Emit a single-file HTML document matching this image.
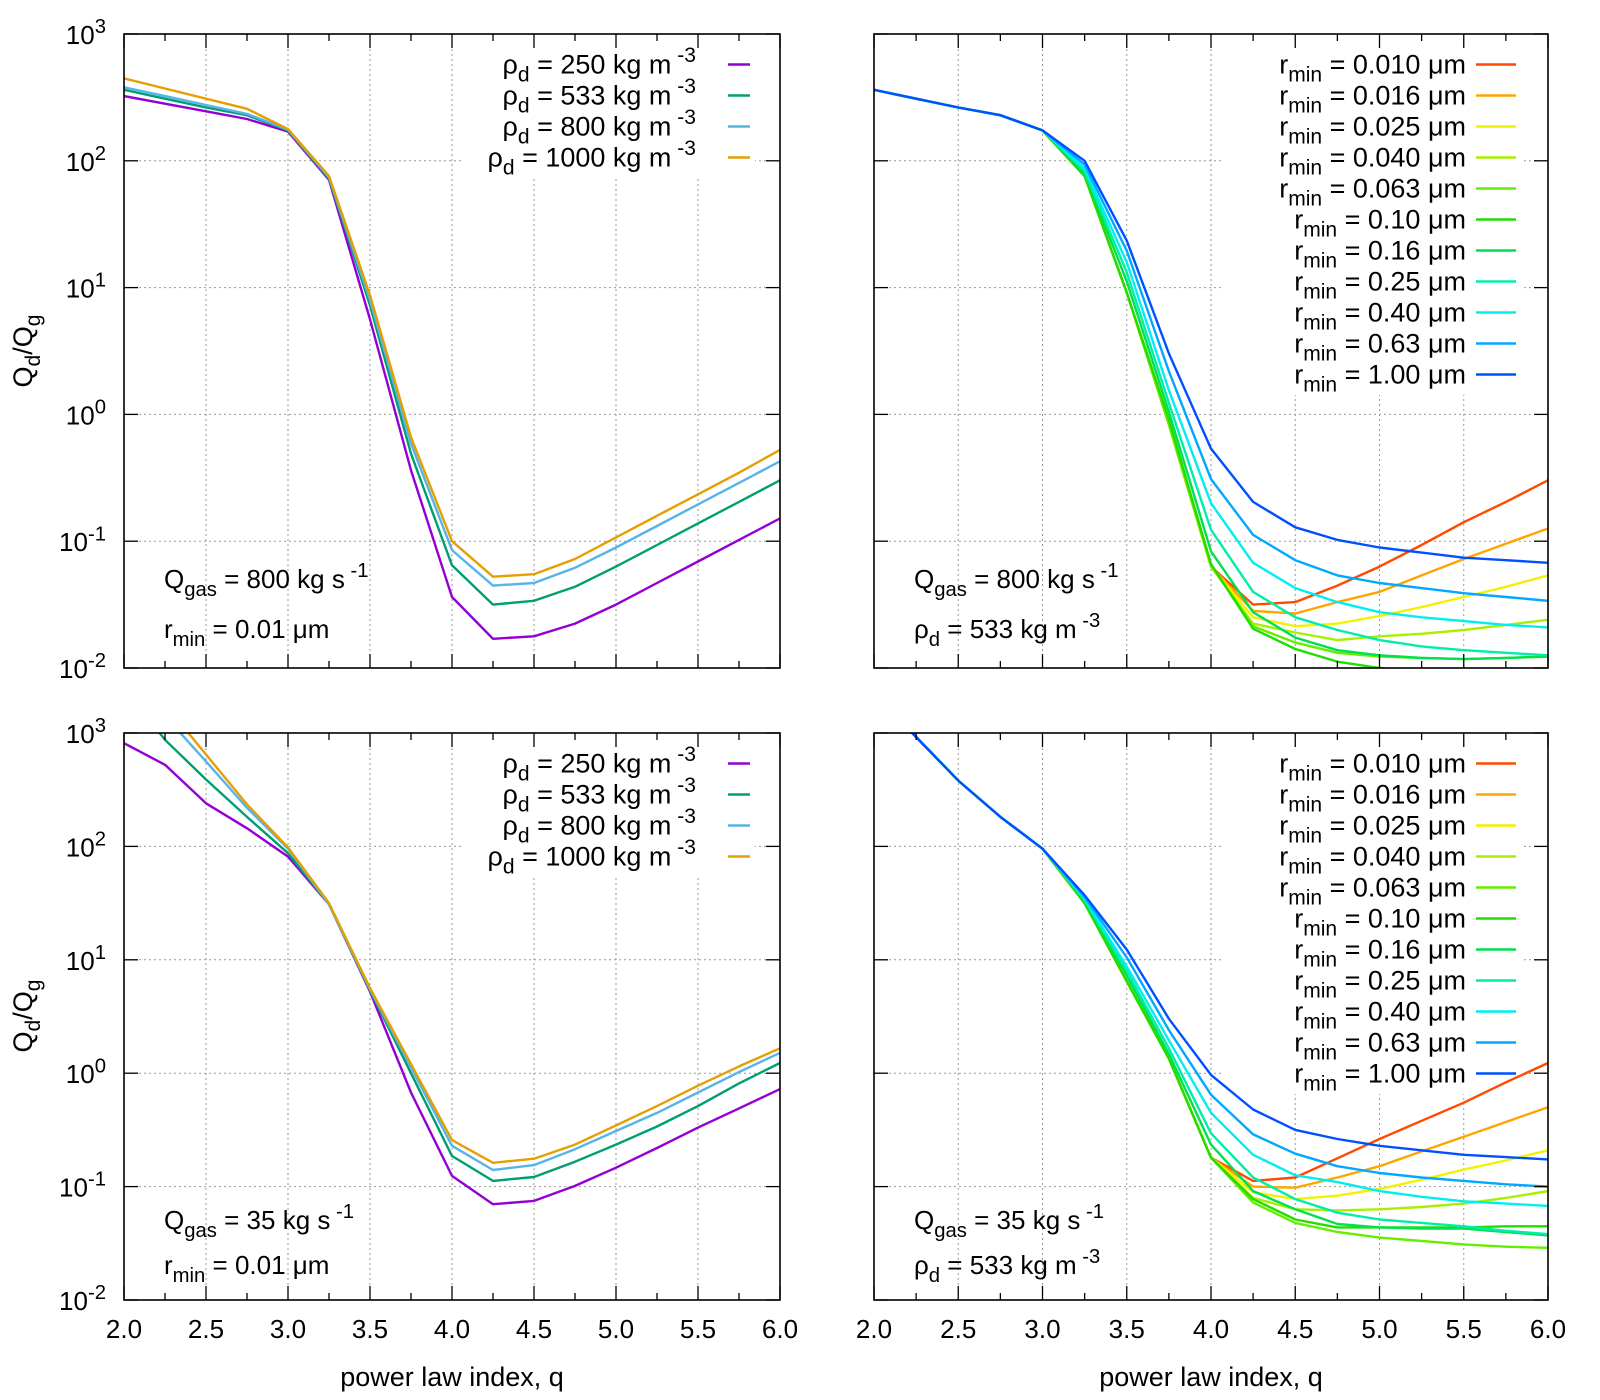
<!DOCTYPE html>
<html><head><meta charset="utf-8"><style>
html,body{margin:0;padding:0;background:#fff;}
svg{display:block;font-family:"Liberation Sans",sans-serif;}
</style></head><body>
<svg id="fig" width="1600" height="1400" viewBox="0 0 1600 1400" xmlns="http://www.w3.org/2000/svg"></svg>
<script>
const qValues=[2,2.25,2.5,2.75,3,3.25,3.5,3.75,4,4.25,4.5,4.75,5,5.25,5.5,5.75,6];
const xTicks=[2,2.5,3,3.5,4,4.5,5,5.5,6];
const xTickLabels=["2.0","2.5","3.0","3.5","4.0","4.5","5.0","5.5","6.0"];
const yTickExps=[-2,-1,0,1,2,3];
// log10(Qd/Qg), top-left
const tl250=[2.51,2.45,2.39,2.33,2.23,1.85,0.75,-0.44,-1.44,-1.77,-1.75,-1.65,-1.50,-1.33,-1.16,-0.99,-0.82];
const tl533=[2.56,2.49,2.42,2.36,2.24,1.86,0.86,-0.31,-1.19,-1.50,-1.47,-1.36,-1.20,-1.03,-0.86,-0.69,-0.52];
const tl800=[2.58,2.51,2.44,2.37,2.245,1.87,0.90,-0.23,-1.07,-1.35,-1.33,-1.21,-1.05,-0.88,-0.71,-0.54,-0.37];
const tl1000=[2.65,2.57,2.49,2.41,2.25,1.88,0.94,-0.18,-1.0,-1.28,-1.26,-1.14,-0.97,-0.80,-0.63,-0.46,-0.28];
// top-right
const tr010=[2.56,2.49,2.42,2.36,2.24,1.88,0.96,-0.08,-1.20,-1.50,-1.48,-1.35,-1.20,-1.03,-0.85,-0.69,-0.52];
const tr016=[2.56,2.49,2.42,2.36,2.24,1.88,0.96,-0.08,-1.20,-1.55,-1.57,-1.48,-1.40,-1.27,-1.14,-1.02,-0.90];
const tr025=[2.56,2.49,2.42,2.36,2.24,1.88,0.96,-0.08,-1.20,-1.60,-1.67,-1.65,-1.59,-1.52,-1.44,-1.36,-1.27];
const tr040=[2.56,2.49,2.42,2.36,2.24,1.88,0.96,-0.08,-1.20,-1.65,-1.72,-1.78,-1.75,-1.73,-1.70,-1.66,-1.62];
const tr063=[2.56,2.49,2.42,2.36,2.24,1.88,0.96,-0.08,-1.19,-1.67,-1.80,-1.88,-1.91,-1.92,-1.93,-1.92,-1.91];
const tr100s=[2.56,2.49,2.42,2.36,2.24,1.88,0.96,-0.04,-1.18,-1.69,-1.85,-1.95,-2.0,-2.03,-2.05,-2.06,-2.07];
const tr160=[2.56,2.49,2.42,2.36,2.24,1.90,1.05,0.02,-1.08,-1.56,-1.76,-1.86,-1.90,-1.92,-1.93,-1.92,-1.91];
const tr250=[2.56,2.49,2.42,2.36,2.24,1.92,1.12,0.09,-0.91,-1.40,-1.60,-1.70,-1.78,-1.83,-1.86,-1.88,-1.90];
const tr400=[2.56,2.49,2.42,2.36,2.24,1.94,1.20,0.19,-0.70,-1.17,-1.37,-1.48,-1.56,-1.60,-1.63,-1.66,-1.68];
const tr630=[2.56,2.49,2.42,2.36,2.24,1.97,1.29,0.34,-0.51,-0.95,-1.15,-1.27,-1.33,-1.37,-1.41,-1.44,-1.47];
const tr1000=[2.56,2.49,2.42,2.36,2.24,2.0,1.37,0.48,-0.27,-0.69,-0.89,-0.99,-1.05,-1.09,-1.13,-1.15,-1.17];
// bottom-left
const bl250=[2.91,2.72,2.38,2.16,1.91,1.49,0.72,-0.17,-0.906,-1.155,-1.126,-0.994,-0.833,-0.66,-0.48,-0.31,-0.14];
const bl533=[3.4,2.94,2.59,2.26,1.94,1.49,0.73,0.0,-0.73,-0.95,-0.915,-0.78,-0.63,-0.47,-0.29,-0.09,0.09];
const bl800=[3.55,3.15,2.75,2.34,1.98,1.49,0.74,0.05,-0.64,-0.854,-0.81,-0.67,-0.51,-0.35,-0.17,0.01,0.18];
const bl1000=[3.7,3.25,2.81,2.37,1.99,1.50,0.75,0.08,-0.59,-0.79,-0.754,-0.63,-0.46,-0.29,-0.11,0.06,0.22];
// bottom-right
const br010=[3.34,2.965,2.58,2.26,1.98,1.50,0.81,0.13,-0.745,-0.95,-0.92,-0.75,-0.58,-0.42,-0.26,-0.08,0.09];
const br016=[3.34,2.965,2.58,2.26,1.98,1.50,0.81,0.13,-0.745,-1.0,-1.01,-0.92,-0.82,-0.69,-0.56,-0.43,-0.30];
const br025=[3.34,2.965,2.58,2.26,1.98,1.50,0.81,0.13,-0.745,-1.05,-1.11,-1.08,-1.02,-0.94,-0.85,-0.77,-0.68];
const br040=[3.34,2.965,2.58,2.26,1.98,1.50,0.81,0.13,-0.745,-1.10,-1.20,-1.21,-1.20,-1.18,-1.15,-1.10,-1.04];
const br063=[3.34,2.965,2.58,2.26,1.98,1.50,0.81,0.13,-0.745,-1.14,-1.32,-1.40,-1.45,-1.48,-1.51,-1.53,-1.54];
const br100s=[3.34,2.965,2.58,2.26,1.98,1.50,0.81,0.13,-0.745,-1.11,-1.29,-1.36,-1.36,-1.36,-1.36,-1.35,-1.35];
const br160=[3.34,2.965,2.58,2.26,1.98,1.52,0.86,0.17,-0.63,-1.04,-1.20,-1.33,-1.36,-1.37,-1.37,-1.40,-1.43];
const br250=[3.34,2.965,2.58,2.26,1.98,1.53,0.90,0.22,-0.53,-0.92,-1.11,-1.23,-1.29,-1.32,-1.35,-1.39,-1.42];
const br400=[3.34,2.965,2.58,2.26,1.98,1.54,0.94,0.29,-0.35,-0.72,-0.90,-0.96,-1.04,-1.09,-1.13,-1.15,-1.17];
const br630=[3.34,2.965,2.58,2.26,1.98,1.555,1.02,0.38,-0.19,-0.54,-0.71,-0.82,-0.88,-0.92,-0.95,-0.98,-1.0];
const br1000=[3.34,2.965,2.58,2.26,1.98,1.57,1.09,0.48,-0.015,-0.32,-0.50,-0.58,-0.64,-0.68,-0.72,-0.74,-0.76];
const rhoLabels=["250","533","800","1000"];
const rminLabels=["0.010","0.016","0.025","0.040","0.063","0.10","0.16","0.25","0.40","0.63","1.00"];

const rhoColors=["#9400d3","#009e73","#56b4e9","#e69f00"];
const rColors=["#ff4a00","#ffa500","#f2f200","#a8f000","#66ee00","#22dd00","#00e050","#00eeaa","#00eef0","#00a8ff","#0050ff"];
const NS="http://www.w3.org/2000/svg";
const svg=document.getElementById('fig');
function mk(tag,attrs,parent){const e=document.createElementNS(NS,tag);for(const k in attrs)e.setAttribute(k,attrs[k]);(parent||svg).appendChild(e);return e;}
function rich(parent,x,y,parts,size,anchor,name){
  const t=mk('text',{x:x,y:y,'font-size':size,'text-anchor':anchor||'start',fill:'#000'},parent);
  
  
  let cur=0;
  parts.forEach(p=>{const s=document.createElementNS(NS,'tspan');let target=0,fs=size;
    if(p[1]==='sub'){target=size*0.3;fs=size*0.78;} else if(p[1]==='sup'){target=-size*0.42;fs=size*0.78;}
    s.setAttribute('dy',target-cur);cur=target;s.setAttribute('font-size',fs);s.textContent=p[0];t.appendChild(s);});
  return t;
}
function panel(id,L,R,T,B,series,colors,legendParts,annot,bottomLabels){
  const g=mk('g',{});
  
  
  const xs=q=>L+(q-2)/4*(R-L);
  const ys=v=>B-(v+2)/5*(B-T);
  xTicks.forEach(q=>{if(q>2&&q<6){const l=mk('line',{x1:xs(q),x2:xs(q),y1:T,y2:B,stroke:'#999','stroke-width':1,'stroke-dasharray':'2,3'},g);}});
  yTickExps.forEach(e=>{if(e>-2&&e<3){const l=mk('line',{x1:L,x2:R,y1:ys(e),y2:ys(e),stroke:'#999','stroke-width':1,'stroke-dasharray':'2,3'},g);}});
  const n=series.length;
  const legTop=T+14, rowH=31;
  const lw=n>4?245:235;
  const lb=mk('rect',{x:legendParts.textX-lw,y:legTop,width:legendParts.lineX2-legendParts.textX+lw+5,height:n*rowH+6,fill:'#fff'},g);
  
  
  const cp=mk('clipPath',{id:'clip-'+id},g);mk('rect',{x:L,y:T,width:R-L,height:B-T},cp);
  const sg=mk('g',{'clip-path':'url(#clip-'+id+')'},g);
  series.forEach((arr,i)=>{
    const pts=arr.map((v,j)=>xs(qValues[j]).toFixed(1)+','+ys(v).toFixed(1)).join(' ');
    const pl=mk('polyline',{points:pts,fill:'none',stroke:colors[i],'stroke-width':2.4,'stroke-linejoin':'round'},sg);
    
    
    const cy=legTop+rowH/2+1+i*rowH;
    rich(g,legendParts.textX,cy+9,legendParts.parts(i),27,'end','legend-label');
    const ll=mk('line',{x1:legendParts.lineX1,x2:legendParts.lineX2,y1:cy,y2:cy,stroke:colors[i],'stroke-width':2.4},g);
    
    
  });
  const fr=mk('rect',{x:L,y:T,width:R-L,height:B-T,fill:'none',stroke:'#000','stroke-width':1.6},g);
  
  
  qValues.forEach(q=>{const major=xTicks.includes(q);const len=major?14:7;
    mk('line',{x1:xs(q),x2:xs(q),y1:B,y2:B-len,stroke:'#000','stroke-width':1.3},g);
    mk('line',{x1:xs(q),x2:xs(q),y1:T,y2:T+len,stroke:'#000','stroke-width':1.3},g);});
  yTickExps.forEach(e=>{mk('line',{x1:L,x2:L+14,y1:ys(e),y2:ys(e),stroke:'#000','stroke-width':1.3},g);
    mk('line',{x1:R,x2:R-14,y1:ys(e),y2:ys(e),stroke:'#000','stroke-width':1.3},g);});
  if(bottomLabels){xTicks.forEach((q,i)=>{const t=mk('text',{x:xs(q),y:B+38,'font-size':26,'text-anchor':'middle'},g);t.textContent=xTickLabels[i];
    });}
  if(L<400){yTickExps.forEach(e=>{rich(g,L-18,ys(e)+10,[["10",null],[String(e),'sup']],26,'end','y-tick-label');});}
  annot.forEach(a=>rich(g,L+40,a[0],a[1],26,'start','annotation'));
}
const rhoLeg={textX:696,lineX1:728,lineX2:750,keys:rhoLabels.map(s=>'rho-'+s),
  parts:i=>[["ρ",null],["d",'sub'],[" = "+rhoLabels[i]+" kg m",null],[" -3",'sup']]};
const rLegR={textX:1466,lineX1:1476,lineX2:1516,keys:rminLabels.map(s=>'rmin-'+s),
  parts:i=>[["r",null],["min",'sub'],[" = "+rminLabels[i]+"  μm",null]]};
panel('panel-top-left',124,780,34,668,[tl250,tl533,tl800,tl1000],rhoColors,rhoLeg,
  [[588,[["Q",null],["gas",'sub'],[" = 800 kg s",null],[" -1",'sup']]],[638,[["r",null],["min",'sub'],[" = 0.01  μm",null]]]],false);
panel('panel-top-right',874,1548,34,668,[tr010,tr016,tr025,tr040,tr063,tr100s,tr160,tr250,tr400,tr630,tr1000],rColors,rLegR,
  [[588,[["Q",null],["gas",'sub'],[" = 800 kg s",null],[" -1",'sup']]],[638,[["ρ",null],["d",'sub'],[" = 533 kg m",null],[" -3",'sup']]]],false);
panel('panel-bottom-left',124,780,733,1300,[bl250,bl533,bl800,bl1000],rhoColors,rhoLeg,
  [[1229,[["Q",null],["gas",'sub'],[" = 35 kg s",null],[" -1",'sup']]],[1274,[["r",null],["min",'sub'],[" = 0.01  μm",null]]]],true);
panel('panel-bottom-right',874,1548,733,1300,[br010,br016,br025,br040,br063,br100s,br160,br250,br400,br630,br1000],rColors,rLegR,
  [[1229,[["Q",null],["gas",'sub'],[" = 35 kg s",null],[" -1",'sup']]],[1274,[["ρ",null],["d",'sub'],[" = 533 kg m",null],[" -3",'sup']]]],true);
[[452,'x-axis-title-left'],[1211,'x-axis-title-right']].forEach(a=>{const t=mk('text',{x:a[0],y:1386,'font-size':27,'text-anchor':'middle'});t.textContent='power law index, q';
  });
[[351,'y-axis-title-top'],[1016,'y-axis-title-bottom']].forEach(a=>{
  const t=rich(svg,0,0,[["Q",null],["d",'sub'],["/Q",null],["g",'sub']],27,'middle',a[1]);
  t.setAttribute('transform','translate(32,'+a[0]+') rotate(-90)');});
</script>
</body></html>
